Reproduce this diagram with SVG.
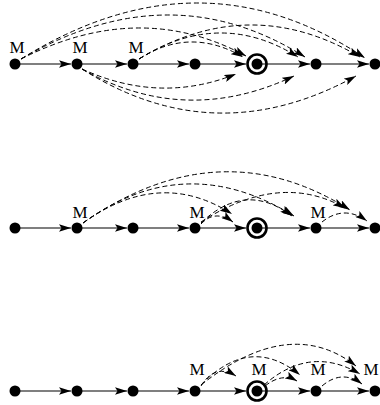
<svg xmlns="http://www.w3.org/2000/svg" width="380" height="405" viewBox="0 0 380 405">
<defs>
<marker id="ah" viewBox="0 0 12 7.5" refX="12" refY="3.75" markerWidth="12" markerHeight="7.5" orient="auto" markerUnits="userSpaceOnUse">
<path d="M0,0 L12,3.75 L0,7.5 L2.5,3.75 z" fill="#000"/>
</marker>
<style>
.e{fill:none;stroke:#000;stroke-width:1.2;marker-end:url(#ah)}
.d{fill:none;stroke:#000;stroke-width:1;stroke-dasharray:5,3;marker-end:url(#ah)}
.n{fill:#000}
.ring{fill:none;stroke:#000;stroke-width:2.6}
.t{font-family:"Liberation Serif","Times New Roman",serif;font-size:17px;fill:#000;text-anchor:middle}
</style>
</defs>
<g id="connectors">
<path class="e" d="M15,64 H71"/>
<path class="e" d="M77,64 H127"/>
<path class="e" d="M133,64 H189"/>
<path class="e" d="M195,64 H246"/>
<path class="e" d="M257,64 H310"/>
<path class="e" d="M316,64 H369"/>
<path class="d" d="M21,59 Q200,-52.5 365,58"/>
<path class="d" d="M21,59 Q170,-28 305,57"/>
<path class="d" d="M21,59 Q140,-1.5 246,56"/>
<path class="d" d="M139,59 Q250,-8 360,57"/>
<path class="d" d="M139,59 Q220,8 298,57"/>
<path class="d" d="M139,59 Q190,26 243,57"/>
<path class="d" d="M82,69 Q160,104.5 236,74"/>
<path class="d" d="M82,69 Q185,127.5 294,76"/>
<path class="d" d="M82,69 Q215,153.5 356,76"/>
<path class="e" d="M15,228 H71"/>
<path class="e" d="M77,228 H127"/>
<path class="e" d="M133,228 H189"/>
<path class="e" d="M195,228 H246"/>
<path class="e" d="M257,228 H310"/>
<path class="e" d="M316,228 H369"/>
<path class="d" d="M83,223 Q220,127.5 350,210"/>
<path class="d" d="M83,223 Q185,148.5 294,216"/>
<path class="d" d="M83,223 Q160,167.5 232,214"/>
<path class="d" d="M201,224 Q215,209 233,222"/>
<path class="d" d="M201,223 Q245,180.5 292,216"/>
<path class="d" d="M201,222 Q280,171 345,208"/>
<path class="d" d="M322,222 Q344,204.5 367,221"/>
<path class="e" d="M15,391 H71"/>
<path class="e" d="M77,391 H127"/>
<path class="e" d="M133,391 H189"/>
<path class="e" d="M195,391 H246"/>
<path class="e" d="M257,391 H310"/>
<path class="e" d="M316,391 H369"/>
<path class="d" d="M201,385 Q290,314.5 356,366"/>
<path class="d" d="M201,385 Q250,334 300,375"/>
<path class="d" d="M201,386 Q215,363 236,376"/>
<path class="d" d="M264,385 Q310,344.5 360,374"/>
<path class="d" d="M265,386 Q282,372.5 297,381"/>
<path class="d" d="M322,386 Q342,369 362,384"/>
</g>
<g id="r1n1"><circle class="n" cx="15" cy="64" r="5.5"/><text class="t" x="17" y="53">M</text></g>
<g id="r1n2"><circle class="n" cx="77" cy="64" r="5.5"/><text class="t" x="80" y="53">M</text></g>
<g id="r1n3"><circle class="n" cx="133" cy="64" r="5.5"/><text class="t" x="136" y="53">M</text></g>
<g id="r1n4"><circle class="n" cx="195" cy="64" r="5.5"/></g>
<g id="r1n5"><circle class="ring" cx="257" cy="64" r="9.5"/><circle class="n" cx="257" cy="64" r="5.5"/></g>
<g id="r1n6"><circle class="n" cx="316" cy="64" r="5.5"/></g>
<g id="r1n7"><circle class="n" cx="375" cy="64" r="5.5"/></g>
<g id="r2n1"><circle class="n" cx="15" cy="228" r="5.5"/></g>
<g id="r2n2"><circle class="n" cx="77" cy="228" r="5.5"/><text class="t" x="80" y="218">M</text></g>
<g id="r2n3"><circle class="n" cx="133" cy="228" r="5.5"/></g>
<g id="r2n4"><circle class="n" cx="195" cy="228" r="5.5"/><text class="t" x="197" y="218">M</text></g>
<g id="r2n5"><circle class="ring" cx="257" cy="228" r="9.5"/><circle class="n" cx="257" cy="228" r="5.5"/></g>
<g id="r2n6"><circle class="n" cx="316" cy="228" r="5.5"/><text class="t" x="318" y="218">M</text></g>
<g id="r2n7"><circle class="n" cx="375" cy="228" r="5.5"/></g>
<g id="r3n1"><circle class="n" cx="15" cy="391" r="5.5"/></g>
<g id="r3n2"><circle class="n" cx="77" cy="391" r="5.5"/></g>
<g id="r3n3"><circle class="n" cx="133" cy="391" r="5.5"/></g>
<g id="r3n4"><circle class="n" cx="195" cy="391" r="5.5"/><text class="t" x="197" y="375">M</text></g>
<g id="r3n5"><circle class="ring" cx="257" cy="391" r="9.5"/><circle class="n" cx="257" cy="391" r="5.5"/><text class="t" x="259" y="375">M</text></g>
<g id="r3n6"><circle class="n" cx="316" cy="391" r="5.5"/><text class="t" x="318" y="375">M</text></g>
<g id="r3n7"><circle class="n" cx="375" cy="391" r="5.5"/><text class="t" x="371" y="375">M</text></g>
</svg>
